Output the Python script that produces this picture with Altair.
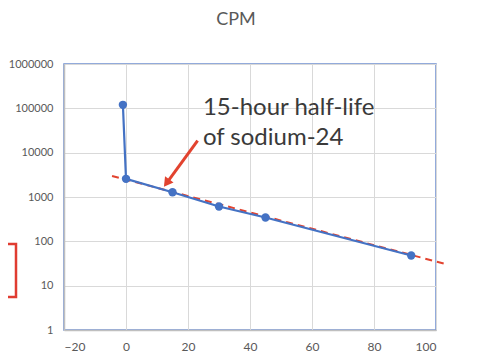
import altair as alt
import pandas as pd

# measured data (hours, counts per minute)
time_h = [-1, 0, 15, 30, 45, 92]
cpm = [120000, 2570, 1280, 610, 345, 48]

# dashed trend line end points
trend_x = [-4.5, 102.9]
trend_y = [2990, 31]

# annotation arrow (start, tip)
arrow_x = [23.1, 13.1]
arrow_y = [18750, 2060]

note_lines = ["15-hour half-life", "of sodium-24"]
note_x = [24.8, 24.8]
note_y = [71300, 15000]

x_ticks = [-20, 0, 20, 40, 60, 80, 100]
y_ticks = [1, 10, 100, 1000, 10000, 100000, 1000000]

FONT = "Lato"
BLUE = "#4472C4"
RED = "#E2432F"

df = pd.DataFrame({"t": time_h, "cpm": cpm})
trend = pd.DataFrame({"t": trend_x, "cpm": trend_y})
arrow = pd.DataFrame({"t": arrow_x, "cpm": arrow_y})
head = pd.DataFrame({"t": arrow_x[1:], "cpm": arrow_y[1:]})
notes = pd.DataFrame({"t": note_x, "cpm": note_y, "txt": note_lines})

xs = alt.Scale(domain=[-20, 100], nice=False, zero=False)
ys = alt.Scale(type="log", domain=[1, 1000000], nice=False)

X = alt.X("t:Q", scale=xs, axis=alt.Axis(values=x_ticks, title=None, grid=True,
          ticks=False, labelPadding=11, labelFontSize=12, domainColor="#bfbfbf"))
Y = alt.Y("cpm:Q", scale=ys, axis=alt.Axis(values=y_ticks, format="d", title=None,
          grid=True, ticks=False, labelPadding=11, labelFontSize=11, domainColor="#bfbfbf"))

base = alt.Chart(df)

trend_line = alt.Chart(trend).mark_line(color=RED, strokeWidth=2, strokeDash=[7, 5]).encode(x=X, y=Y)
data_line = base.mark_line(color=BLUE, strokeWidth=2.2).encode(x=X, y=Y, order="t:Q")
pts = base.mark_point(filled=True, color=BLUE, size=70, opacity=1).encode(x=X, y=Y)

arrow_line = alt.Chart(arrow).mark_line(color=RED, strokeWidth=3).encode(
    x=alt.X("t:Q", scale=xs), y=alt.Y("cpm:Q", scale=ys))
arrow_head = alt.Chart(head).mark_point(shape="triangle-up", filled=True, color=RED,
                                        size=110, angle=216, opacity=1).encode(
    x=alt.X("t:Q", scale=xs), y=alt.Y("cpm:Q", scale=ys))

note = alt.Chart(notes).mark_text(font=FONT, fontSize=24, color="#3a3a3a", align="left",
                                  baseline="alphabetic").encode(
    x=alt.X("t:Q", scale=xs), y=alt.Y("cpm:Q", scale=ys), text="txt:N")

red_box = alt.Chart(pd.DataFrame({"a": [0]})).mark_rect(fill=None, stroke="#E03C31",
                                                         strokeWidth=2.5).encode(
    x=alt.value(-100), x2=alt.value(-48), y=alt.value(180), y2=alt.value(233))

chart = alt.layer(trend_line, data_line, pts, arrow_line, arrow_head, note, red_box).properties(
    width=372, height=266,
    autosize=alt.AutoSizeParams(type="none"),
    padding={"left": 56, "top": 56, "right": 36, "bottom": 24},
    title=alt.TitleParams("CPM", font=FONT, fontSize=18, fontWeight="normal",
                          color="#595959", offset=29, dx=-14),
).configure_view(stroke="#6f8fd0", strokeWidth=1.5).configure_axis(
    labelFont=FONT, labelColor="#595959", gridColor="#d9d9d9",
    gridWidth=1, domainWidth=1.5
)

chart.save("out.html", embed_options={"renderer": "svg", "actions": False})
